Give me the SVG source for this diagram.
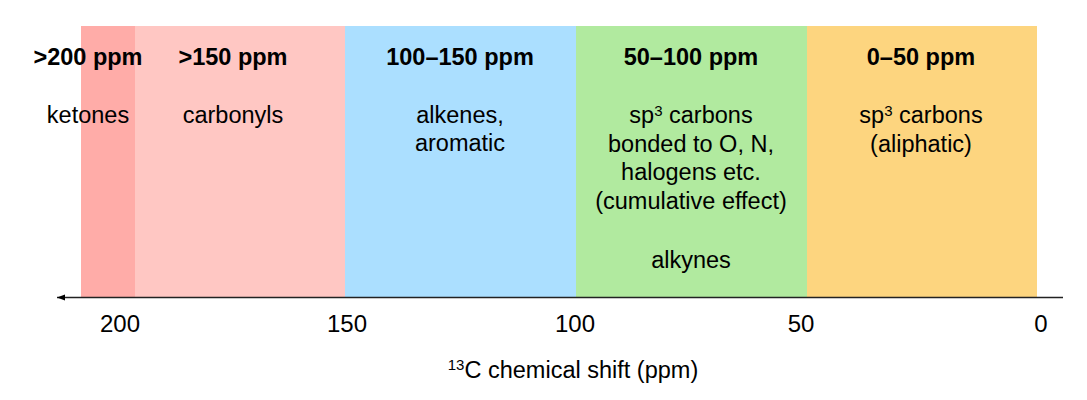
<svg xmlns="http://www.w3.org/2000/svg" width="1087" height="400" viewBox="0 0 1087 400">
<style>
text{font-family:"Liberation Sans",Arial,sans-serif;fill:#000;text-anchor:middle}
.h{font-size:23.5px;font-weight:bold}
.b{font-size:23.5px}
.t{font-size:24px}
.sup{font-size:15px}
</style>
<defs>
<marker id="arr" markerWidth="9" markerHeight="8" refX="8" refY="4" orient="auto" markerUnits="userSpaceOnUse">
<path d="M0,1 L8,4 L0,7 Z" fill="#000"/>
</marker>
</defs>
<rect width="1087" height="400" fill="#fff"/>
<g id="band-200">
<rect x="81" y="26" width="54" height="271" fill="#FFACA8"/>
</g>
<g id="band-150">
<rect x="135" y="26" width="210" height="271" fill="#FFC7C3"/>
</g>
<g id="band-100-150">
<rect x="345" y="26" width="231" height="271" fill="#ABDFFF"/>
</g>
<g id="band-50-100">
<rect x="576" y="26" width="231" height="271" fill="#B1EA9F"/>
</g>
<g id="band-0-50">
<rect x="807" y="26" width="230" height="271" fill="#FDD57F"/>
</g>
<g id="connectors">
<line x1="1063" y1="297.5" x2="57" y2="297.5" stroke="#222" stroke-width="1.6" marker-end="url(#arr)"/>
</g>
<g id="labels-200">
<text class="h" x="88" y="65">&gt;200 ppm</text>
<text class="b" x="88" y="123">ketones</text>
</g>
<g id="labels-150">
<text class="h" x="233" y="65">&gt;150 ppm</text>
<text class="b" x="233" y="123">carbonyls</text>
</g>
<g id="labels-100-150">
<text class="h" x="460" y="65">100–150 ppm</text>
<text class="b" x="460" y="123">alkenes,</text>
<text class="b" x="460" y="151">aromatic</text>
</g>
<g id="labels-50-100">
<text class="h" x="691" y="65">50–100 ppm</text>
<text class="b" x="691" y="123">sp<tspan class="sup" dy="-7">3</tspan><tspan dy="7"> carbons</tspan></text>
<text class="b" x="691" y="152">bonded to O, N,</text>
<text class="b" x="691" y="180">halogens etc.</text>
<text class="b" x="691" y="209">(cumulative effect)</text>
<text class="b" x="691" y="268">alkynes</text>
</g>
<g id="labels-0-50">
<text class="h" x="921" y="65">0–50 ppm</text>
<text class="b" x="921" y="123">sp<tspan class="sup" dy="-7">3</tspan><tspan dy="7"> carbons</tspan></text>
<text class="b" x="921" y="152">(aliphatic)</text>
</g>
<g id="ticks">
<text class="t" x="120" y="332">200</text>
<text class="t" x="347" y="332">150</text>
<text class="t" x="575" y="332">100</text>
<text class="t" x="801" y="332">50</text>
<text class="t" x="1041" y="332">0</text>
</g>
<g id="axis-title">
<text class="b" x="573" y="378"><tspan class="sup" dy="-8">13</tspan><tspan dy="8">C chemical shift (ppm)</tspan></text>
</g>
</svg>
